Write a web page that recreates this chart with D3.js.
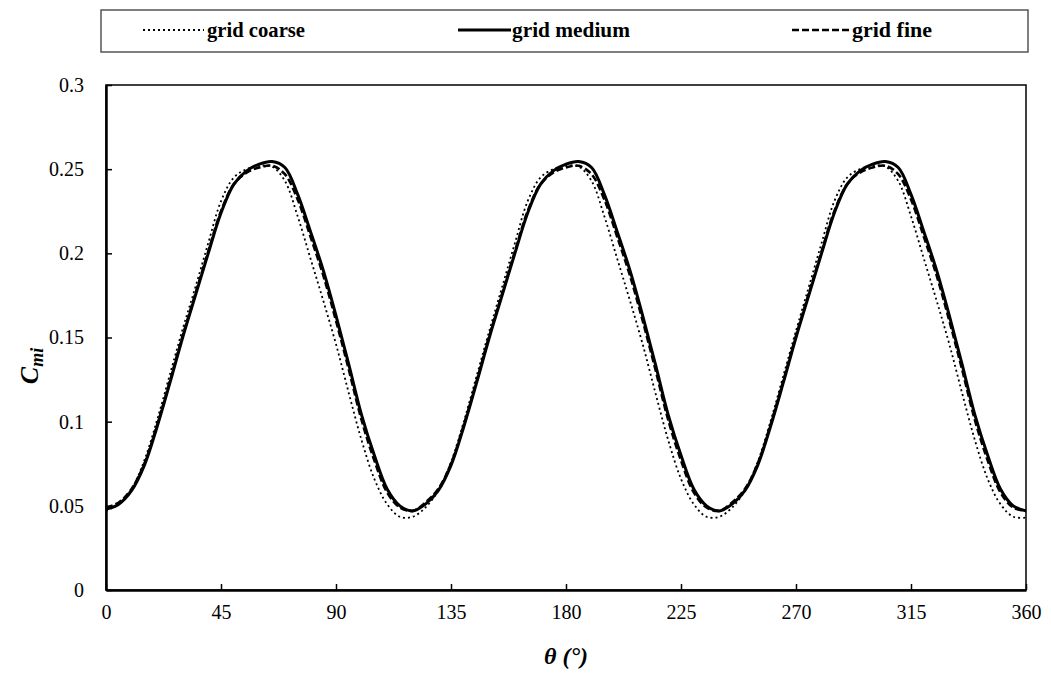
<!DOCTYPE html>
<html>
<head>
<meta charset="utf-8">
<script src="https://cdn.jsdelivr.net/npm/d3@7"></script>
<style>
  body { margin: 0; background: #fff; }
  svg { display: block; }
  svg text { font-family: 'Liberation Serif', 'Times New Roman', Times, 'DejaVu Serif', serif; }
  .tick text { font-size: 20px; fill: #000; }
</style>
</head>
<body>
<div id="chart"></div>
<script>
// angle of the rotor (deg) every 5 degrees
const theta = [0,5,10,15,20,25,30,35,40,45,50,55,60,65,70,75,80,85,90,95,100,105,110,115,
  120,125,130,135,140,145,150,155,160,165,170,175,180,185,190,195,200,205,210,215,220,225,230,235,
  240,245,250,255,260,265,270,275,280,285,290,295,300,305,310,315,320,325,330,335,340,345,350,355,360];

const gridCoarse = [0.047,0.051,0.060,0.077,0.101,0.128,0.155,0.180,0.206,0.231,0.245,0.250,0.252,0.2515,0.243,0.222,0.197,0.172,0.146,0.117,0.089,0.066,0.051,0.0435,
  0.0435,0.049,0.059,0.076,0.100,0.127,0.154,0.180,0.206,0.231,0.245,0.250,0.252,0.2515,0.243,0.222,0.197,0.172,0.146,0.117,0.089,0.066,0.051,0.0435,
  0.0435,0.049,0.059,0.076,0.100,0.127,0.154,0.180,0.206,0.231,0.245,0.250,0.252,0.2515,0.243,0.222,0.197,0.172,0.146,0.117,0.089,0.066,0.051,0.0435,
  0.043];

const gridMedium = [0.048,0.051,0.059,0.074,0.097,0.123,0.150,0.175,0.200,0.224,0.241,0.249,0.253,0.2545,0.251,0.235,0.213,0.190,0.163,0.134,0.104,0.080,0.060,0.050,
  0.047,0.051,0.059,0.074,0.097,0.123,0.150,0.175,0.200,0.224,0.241,0.249,0.253,0.2545,0.251,0.235,0.213,0.190,0.163,0.134,0.104,0.080,0.060,0.050,
  0.047,0.051,0.059,0.074,0.097,0.123,0.150,0.175,0.200,0.224,0.241,0.249,0.253,0.2545,0.251,0.235,0.213,0.190,0.163,0.134,0.104,0.080,0.060,0.050,
  0.047];

const gridFine = [0.049,0.052,0.060,0.075,0.098,0.124,0.151,0.176,0.201,0.225,0.241,0.248,0.251,0.252,0.247,0.232,0.210,0.187,0.160,0.131,0.101,0.077,0.058,0.049,
  0.047,0.052,0.060,0.075,0.098,0.124,0.151,0.176,0.201,0.225,0.241,0.248,0.251,0.252,0.247,0.232,0.210,0.187,0.160,0.131,0.101,0.077,0.058,0.049,
  0.047,0.052,0.060,0.075,0.098,0.124,0.151,0.176,0.201,0.225,0.241,0.248,0.251,0.252,0.247,0.232,0.210,0.187,0.160,0.131,0.101,0.077,0.058,0.049,
  0.047];

const xTicks = [0,45,90,135,180,225,270,315,360];
const yTicks = [0,0.05,0.1,0.15,0.2,0.25,0.3];
const yTickLabels = ['0','0.05','0.1','0.15','0.2','0.25','0.3'];

const seriesNames = ['grid coarse','grid medium','grid fine'];

const W = 1051, H = 675;
const margin = {left: 106, right: 25, top: 85, bottom: 85};

const svg = d3.select('#chart').append('svg')
        .attr('width', W)
        .attr('height', H);

const x = d3.scaleLinear().domain([0, 360]).range([margin.left, W - margin.right]);
const y = d3.scaleLinear().domain([0, 0.3]).range([H - margin.bottom, margin.top]);

// styles per series
const styles = [
  {width: 1.8, dash: '2,3'},
  {width: 3, dash: null},
  {width: 2.6, dash: '7,3'}
];

// frame
svg.append('rect')
  .attr('x', x(0))
  .attr('y', y(0.3))
  .attr('width', x(360) - x(0))
  .attr('height', y(0) - y(0.3))
  .attr('fill', 'none')
  .attr('stroke', '#000')
  .attr('stroke-width', 1.5);

// axes with inward ticks
const xAxis = svg.append('g')
  .attr('transform', `translate(0,${y(0)})`)
  .call(d3.axisBottom(x).tickValues(xTicks).tickSizeInner(-6).tickSizeOuter(0).tickPadding(15));
xAxis.attr('font-family', null);
xAxis.select('.domain').attr('stroke-width', 2.5);
xAxis.selectAll('.tick line').attr('stroke-width', 1.5);

const yAxis = svg.append('g')
  .attr('transform', `translate(${x(0)},0)`)
  .call(d3.axisLeft(y).tickValues(yTicks).tickSizeInner(-6).tickSizeOuter(0).tickPadding(22)
    .tickFormat((d, i) => yTickLabels[i]));
yAxis.attr('font-family', null);
yAxis.select('.domain').attr('stroke-width', 2.5);
yAxis.selectAll('.tick line').attr('stroke-width', 1.5);

// curves
const allSeries = [gridCoarse, gridMedium, gridFine];
const line = d3.line()
  .x((d, i) => x(theta[i]))
  .y(d => y(d))
  .curve(d3.curveCatmullRom.alpha(0.5));

allSeries.forEach((s, k) => {
  svg.append('path')
    .datum(s)
    .attr('fill', 'none')
    .attr('stroke', '#000')
    .attr('stroke-width', styles[k].width)
    .attr('stroke-dasharray', styles[k].dash)
    .attr('d', line);
});

// axis titles
svg.append('text')
  .attr('x', x(180))
  .attr('y', 664)
  .attr('text-anchor', 'middle')
  .style('font-weight', 'bold')
  .style('font-style', 'italic')
  .style('font-size', '24px')
  .text('θ (°)');

const yTitle = svg.append('text')
  .attr('transform', 'translate(38,366) rotate(-90)')
  .attr('text-anchor', 'middle')
  .style('font-weight', 'bold')
  .style('font-style', 'italic')
  .style('font-size', '26px');
yTitle.append('tspan').text('C');
yTitle.append('tspan').attr('dy', 5).style('font-size', '18px').text('mi');

// legend
const legend = svg.append('g');
legend.append('rect')
  .attr('x', 101)
  .attr('y', 10)
  .attr('width', 927)
  .attr('height', 42)
  .attr('fill', '#fff')
  .attr('stroke', '#555')
  .attr('stroke-width', 1.5);

const legendItems = [
  {x0: 143, x1: 204, tx: 207, tw: 98},
  {x0: 458, x1: 511, tx: 512, tw: 118},
  {x0: 792, x1: 850, tx: 852, tw: 80}
];

legendItems.forEach((it, k) => {
  legend.append('line')
    .attr('x1', it.x0).attr('x2', it.x1)
    .attr('y1', 30).attr('y2', 30)
    .attr('stroke', '#000')
    .attr('stroke-width', styles[k].width)
    .attr('stroke-dasharray', styles[k].dash);
  legend.append('text')
    .attr('x', it.tx)
    .attr('y', 37)
    .attr('textLength', it.tw)
    .attr('lengthAdjust', 'spacingAndGlyphs')
    .style('font-weight', 'bold')
    .style('font-size', '22px')
    .text(seriesNames[k]);
});
</script>
</body>
</html>
